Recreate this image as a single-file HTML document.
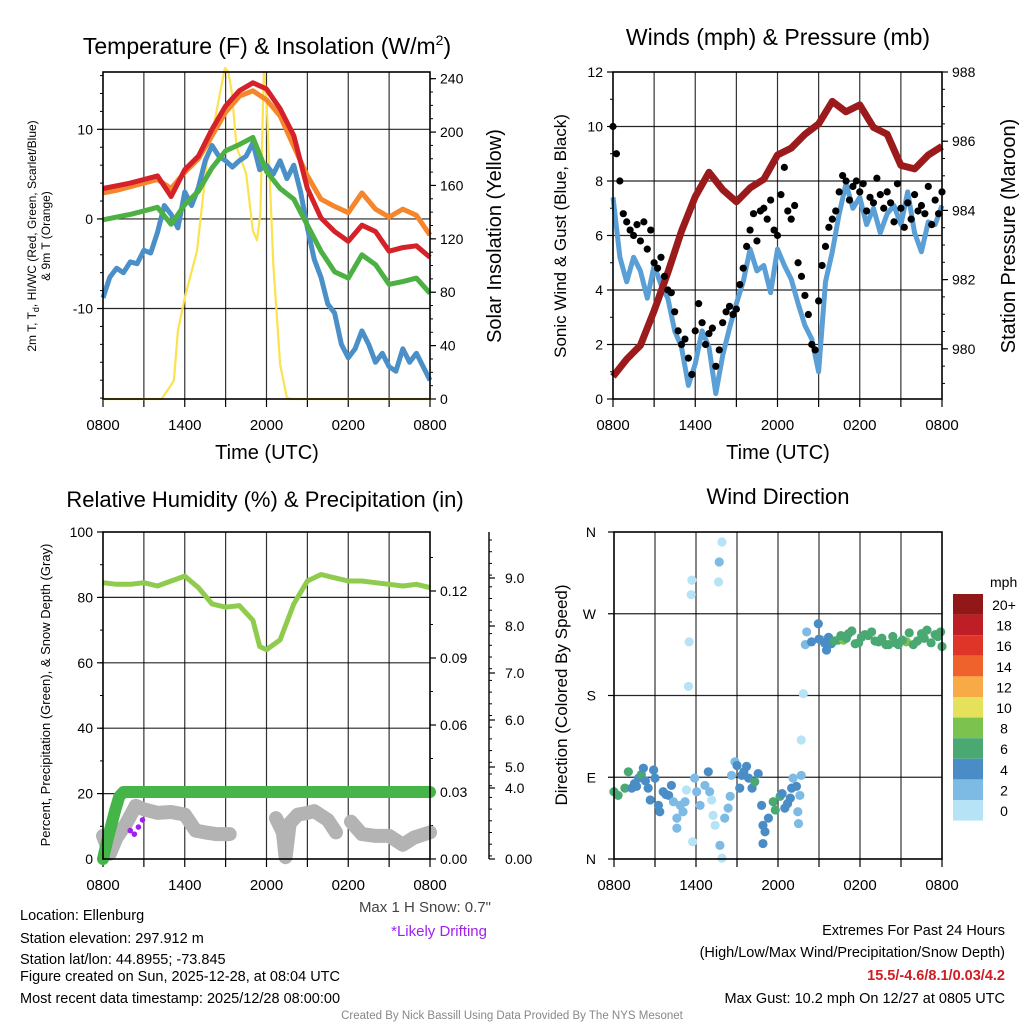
<!DOCTYPE html>
<html><head><meta charset="utf-8">
<style>
html,body{margin:0;padding:0;background:#fff;}
body{width:1024px;height:1024px;overflow:hidden;font-family:"Liberation Sans",Arial,sans-serif;}
svg text{font-family:"Liberation Sans",Arial,sans-serif;}
</style></head>
<body>
<svg id="chart" width="1024" height="1024" viewBox="0 0 1024 1024" xmlns="http://www.w3.org/2000/svg">
<g id="static">
<text x="267" y="54" font-size="23" text-anchor="middle">Temperature (F) &amp; Insolation (W/m<tspan font-size="14" dy="-9">2</tspan><tspan dy="9">)</tspan></text>
<text x="778" y="45" font-size="23" text-anchor="middle">Winds (mph) &amp; Pressure (mb)</text>
<text x="265" y="507" font-size="22" text-anchor="middle">Relative Humidity (%) &amp; Precipitation (in)</text>
<text x="778" y="504" font-size="22" text-anchor="middle">Wind Direction</text>
<text transform="translate(36,236) rotate(-90)" font-size="12" text-anchor="middle">2m T, T<tspan font-size="9" dy="3">d</tspan><tspan dy="-3">, HI/WC (Red, Green, Scarlet/Blue)</tspan></text>
<text transform="translate(50,236) rotate(-90)" font-size="12" text-anchor="middle">&amp; 9m T (Orange)</text>
<text transform="translate(501,236) rotate(-90)" font-size="20" text-anchor="middle">Solar Insolation (Yellow)</text>
<text x="267" y="459" font-size="20" text-anchor="middle">Time (UTC)</text>
<text x="778" y="459" font-size="20" text-anchor="middle">Time (UTC)</text>
<text transform="translate(566,236) rotate(-90)" font-size="17" text-anchor="middle">Sonic Wind &amp; Gust (Blue, Black)</text>
<text transform="translate(1015,236) rotate(-90)" font-size="20" text-anchor="middle">Station Pressure (Maroon)</text>
<text transform="translate(50,695) rotate(-90)" font-size="13" text-anchor="middle">Percent, Precipitation (Green), &amp; Snow Depth (Gray)</text>
<text transform="translate(567,695) rotate(-90)" font-size="17" text-anchor="middle">Direction (Colored By Speed)</text>
<text x="491" y="912" font-size="15" fill="#444" text-anchor="end">Max 1 H Snow: 0.7"</text>
<text x="487" y="936" font-size="15" fill="#a020f0" text-anchor="end">*Likely Drifting</text>
<g font-size="14.5">
<text x="20" y="920">Location: Ellenburg</text>
<text x="20" y="943">Station elevation: 297.912 m</text>
<text x="20" y="964">Station lat/lon: 44.8955; -73.845</text>
<text x="20" y="981">Figure created on Sun, 2025-12-28, at 08:04 UTC</text>
<text x="20" y="1003">Most recent data timestamp: 2025/12/28 08:00:00</text>
</g>
<g font-size="14.5" text-anchor="end">
<text x="1005" y="935">Extremes For Past 24 Hours</text>
<text x="1005" y="957">(High/Low/Max Wind/Precipitation/Snow Depth)</text>
<text x="1005" y="980" fill="#d01c24" font-weight="bold">15.5/-4.6/8.1/0.03/4.2</text>
<text x="1005" y="1003">Max Gust: 10.2 mph On 12/27 at 0805 UTC</text>
</g>
<text x="512" y="1019" font-size="11.5" fill="#888" text-anchor="middle">Created By Nick Bassill Using Data Provided By The NYS Mesonet</text>
</g>
</svg>
<script>
// ---------- DATA ----------
const xTickLabels = ["0800","1400","2000","0200","0800"];
const hourly = [0,1,2,3,4,5,6,7,8,9,10,11,12,13,14,15,16,17,18,19,20,21,22,23,24];
const tempRed = [3.4,3.7,4.0,4.4,4.8,2.5,5.5,7.0,10.0,12.6,14.3,15.2,14.5,12.3,9.3,3.4,0.1,-1.4,-2.5,-0.7,-1.4,-3.6,-3.2,-3.0,-4.3];
const tempOrange = [2.9,3.2,3.6,4.0,4.4,3.4,5.2,6.7,9.3,11.9,13.7,14.3,13.3,11.5,8.1,4.8,2.2,1.4,0.7,2.9,1.1,0.2,1.1,0.4,-1.8];
const tempGreen = [-0.1,0.2,0.5,0.9,1.3,-0.6,1.6,3.1,5.7,7.6,8.3,9.1,5.3,3.4,2.2,-0.7,-3.6,-5.9,-6.6,-4.0,-5.1,-7.3,-7.0,-6.6,-8.3];
const halfHourly = [0,0.5,1,1.5,2,2.5,3,3.5,4,4.5,5,5.5,6,6.5,7,7.5,8,8.5,9,9.5,10,10.5,11,11.5,12,12.5,13,13.5,14,14.5,15,15.5,16,16.5,17,17.5,18,18.5,19,19.5,20,20.5,21,21.5,22,22.5,23,23.5,24];
const tempBlue = [-8.8,-6.5,-5.5,-6.0,-4.8,-5.0,-3.5,-3.8,-1.5,1.5,0.5,-1.0,3.0,1.5,3.5,6.5,8.2,7.0,6.5,5.8,6.5,7.0,8.5,5.5,6.0,5.0,6.5,4.5,6.0,3.0,-1.0,-4.5,-6.5,-9.5,-10.5,-14.0,-15.5,-14.5,-12.5,-14.0,-16.0,-15.0,-16.5,-17.0,-14.5,-16.0,-15.0,-16.5,-18.0];
const insolHours = [0,4.3,4.9,5.2,5.5,6,6.9,7.6,8.3,8.95,9.2,9.45,9.8,10.5,11,11.3,11.55,11.8,12,12.5,13,13.5,13.8,24];
const insolVals = [0,0,9,14,51,76,111,176,214,248,245,230,189,169,126,119,139,245,224,101,26,1,0,0];
const tempTicks = [-10,0,10];
const insolTicks = [0,40,80,120,160,200,240];

const windSpeed = [7.4,5.2,4.3,5.2,4.7,3.7,4.9,4.2,3.7,2.5,1.9,0.5,1.3,2.5,1.9,0.2,1.6,2.6,3.5,4.3,5.5,4.7,4.9,3.9,5.5,4.9,4.4,3.5,2.7,2.2,1.0,4.3,5.4,6.8,7.9,7.0,7.4,6.4,7.0,6.1,6.8,7.1,6.4,7.6,6.1,5.4,6.5,6.4,7.1];
const gustSpeed = [10.0,9.0,8.0,6.8,6.5,6.2,6.0,6.4,5.8,6.5,5.5,6.2,5.0,4.8,5.2,4.5,4.0,3.9,3.2,2.5,2.0,2.2,1.5,0.9,2.5,3.5,2.8,2.0,2.4,2.6,1.2,1.8,2.8,3.2,3.4,3.1,3.3,4.2,4.8,5.6,6.2,6.8,5.8,6.9,7.0,6.6,7.3,6.2,6.0,7.5,8.5,6.9,6.6,7.1,5.0,4.5,3.8,3.1,2.0,1.8,3.6,4.9,5.6,6.3,6.6,6.9,7.6,8.2,8.0,7.3,7.8,8.0,7.6,7.9,6.9,7.4,7.2,8.1,7.5,7.0,7.6,7.2,6.5,7.9,7.0,6.3,7.2,6.6,7.5,6.9,7.1,6.8,7.8,6.4,7.3,6.8,7.6];
const pressure = [979.2,979.7,980.1,981.1,982.2,983.4,984.4,985.1,984.6,984.25,984.65,984.9,985.6,985.8,986.2,986.5,987.15,986.85,987.05,986.4,986.2,985.3,985.2,985.6,985.85];
const windTicks = [0,2,4,6,8,10,12];
const pressTicks = [980,982,984,986,988];

const rhHours = [0,1,2,3,4,5,6,7,8,9,10,11,11.5,12,13,14,15,16,17,18,19,20,21,22,23,24];
const rhVals = [84.5,84,84,84.5,83.5,85,86.5,83,78,77,77.5,73,65,64,67,78,85,87,86,85,85,84.5,84,83.5,84,83];
const precipHours = [0,0.3,0.6,0.9,1.2,1.5,24];
const precipVals = [0,0.008,0.015,0.022,0.028,0.03,0.03];
const snowSeg1Hours = [0,0.5,1,1.7,2.4,3,4,5,6,6.8,7.5,8.3,9.3];
const snowSeg1Vals = [1.3,0.3,1.2,2.0,3.0,2.8,2.6,2.65,2.5,1.6,1.5,1.4,1.4];
const snowSeg2Hours = [12.7,13.2,13.4,13.7,14.3,15,15.5,16.5,17.1];
const snowSeg2Vals = [2.3,1.5,0.1,2.0,2.5,2.6,2.7,2.2,1.5];
const snowSeg3Hours = [18.2,19,20,21,22,22.8,24];
const snowSeg3Vals = [2.1,1.4,1.3,1.3,0.8,1.2,1.5];
const driftHours = [2.0,2.3,2.6,2.9];
const driftVals = [1.6,1.4,1.8,2.2];
const rhTicks = [0,20,40,60,80,100];
const precipTicks = [0,0.03,0.06,0.09,0.12];
const snowTickLabels = ["0.00","4.0","5.0","6.0","7.0","8.0","9.0"];

const dirHours = [0,0.3,0.8,1.05,1.3,1.65,1.8,2.0,2.15,2.5,2.65,2.9,3.0,3.25,3.35,3.6,4.0,4.2,4.35,4.6,4.6,4.85,5.05,5.2,5.3,5.45,5.5,5.65,5.7,5.75,5.9,6.05,6.3,6.65,6.9,7.0,7.15,7.25,7.4,7.65,7.7,7.9,7.75,7.9,8.1,8.35,8.5,8.6,8.85,9.0,9.2,9.35,9.7,9.85,10.1,10.3,10.55,10.8,10.9,10.9,11.05,11.3,11.65,11.8,12.15,12.5,12.9,13.0,13.1,13.35,13.5,13.45,13.6,13.7,13.7,13.85,14.0,14.1,14.45,14.95,15.2,15.55,15.9,16.4,16.8,17.15,17.65,18.35,18.85,19.35,20.1,20.8,21.4,21.9,22.5,22.9,23.5,24,15.0,15.4,15.7,16.1,16.6,17.0,17.4,17.9,18.1,18.6,19.1,19.6,19.9,20.4,20.6,21.1,21.6,22.2,22.7,23.2,23.7,23.9,1.5,2.3,3.8,9.5,12.7,12.3];
const dirDegs = [74,70,78,96,78,80,89,93,100,78,65,98,89,59,52,74,70,81,63,45,34,59,52,63,76,190,239,291,307,19,89,74,59,81,96,74,65,48,37,305,327,349,15,1,45,56,69,92,107,103,78,92,102,89,78,85,94,59,37,17,30,45,63,54,69,56,67,78,89,80,39,52,70,92,131,182,236,250,239,259,241,230,237,241,241,248,237,247,250,239,236,236,239,236,248,252,247,234,242,238,244,240,246,243,251,238,244,246,240,243,236,245,238,241,249,240,243,238,245,250,83,86,71,96,61,72];
const dirSpeeds = [6.5,7.5,6.5,6.5,4.5,4.5,4.5,6.5,4.5,4.5,4.5,4.5,4.5,4.5,4.5,4.5,4.5,4.5,2.5,2.5,2.5,2.5,2.5,2.5,1,1,1,1,1,1,2.5,2.5,2.5,2.5,4.5,2.5,1,1,1,1,2.5,1,2.5,1,2.5,2.5,2.5,2.5,2.5,4.5,4.5,4.5,4.5,4.5,4.5,6.5,4.5,4.5,4.5,4.5,4.5,4.5,6.5,6.5,6.5,4.5,4.5,4.5,2.5,4.5,2.5,2.5,2.5,2.5,1,1,2.5,2.5,4.5,4.5,2.5,4.5,4.5,6.5,8,6.5,6.5,6.5,6.5,6.5,6.5,6.5,8,6.5,6.5,6.5,6.5,6.5,4.5,4.5,4.5,6.5,6.5,6.5,6.5,6.5,6.5,6.5,6.5,6.5,6.5,6.5,6.5,6.5,6.5,6.5,6.5,6.5,6.5,6.5,4.5,4.5,4.5,4.5,4.5,4.5];
const dirTickLabels = ["N","E","S","W","N"];
const cbarLabels = ["20+","18","16","14","12","10","8","6","4","2","0"];
const cbarColors = ["#911719","#be1e26","#de3528","#f0622b","#f7aa46","#e6e15a","#7cc24e","#4aa873","#4a8dc6","#7dbbe5","#b7e3f7"];

// ---------- HELPERS ----------
const NS = "http://www.w3.org/2000/svg";
const svg = document.getElementById("chart");
function mk(tag, attrs, parent){
  const e = document.createElementNS(NS, tag);
  for (const k in attrs) e.setAttribute(k, attrs[k]);
  (parent || svg).appendChild(e);
  return e;
}
function txt(s, attrs, parent){ const e = mk("text", attrs, parent); e.textContent = s; return e; }
const P1 = {x0:103,x1:430,y0:72,y1:399};
const P2 = {x0:613,x1:942,y0:72,y1:399};
const P3 = {x0:103,x1:430,y0:532,y1:859};
const P4 = {x0:614,x1:942,y0:532,y1:859};
function hx(p,h){ return p.x0 + (p.x1-p.x0)*h/24; }
function lin(d0,d1,r0,r1){ return v => r0 + (v-d0)*(r1-r0)/(d1-d0); }
const yTemp = lin(-20.1,16.4,399,72);
const yIns = lin(0,245,399,72);
const yWind = lin(0,12,399,72);
const yPress = lin(978.55,988,399,72);
const yRH = lin(0,100,859,532);
const yPrecip = lin(0,0.12,859,591);
const ySnow = lin(0,4,859,788);
const yDir = lin(0,360,859,532);
function pathD(p, hs, vs, yf){
  let d = "";
  for (let i=0;i<hs.length;i++){ d += (i? "L":"M") + hx(p,hs[i]).toFixed(1) + "," + yf(vs[i]).toFixed(1); }
  return d;
}
function frame(p, name){
  const g = mk("g", {});
  
  
  for (let h=3; h<24; h+=3){
    const l = mk("line",{x1:hx(p,h),x2:hx(p,h),y1:p.y0,y2:p.y1,stroke:"#000","stroke-width":1.2,"stroke-opacity":0.8},g);
    
    
  }
  for (let h=0; h<=24; h+=3){
    const t = mk("line",{x1:hx(p,h),x2:hx(p,h),y1:p.y1,y2:p.y1+8,stroke:"#000","stroke-width":1.2},g);
    
    
  }
  for (let i=0;i<xTickLabels.length;i++){
    const t = txt(xTickLabels[i],{x:hx(p,i*6),y:p.y1+31,"font-size":15,"text-anchor":"middle"},g);
    
    
  }
  return g;
}
function border(p){
  const r = mk("rect",{x:p.x0,y:p.y0,width:p.x1-p.x0,height:p.y1-p.y0,fill:"none",stroke:"#000","stroke-width":1.6});
  
  
}
function hgrid(p, ys, g){
  ys.forEach(y=>{
    const l = mk("line",{x1:p.x0,x2:p.x1,y1:y,y2:y,stroke:"#000","stroke-width":1.2,"stroke-opacity":0.85},g);
    
    
  });
}
function yAxis(x, vals, yf, fmt, side, minorVals, g){
  const dir = side==="left" ? -1 : 1;
  vals.forEach(v=>{
    const y = yf(v);
    const t = mk("line",{x1:x,x2:x+dir*6,y1:y,y2:y,stroke:"#000","stroke-width":1.2},g);
    
    
    const lb = txt(fmt(v),{x:x+dir*10,y:y+5,"font-size":14,"text-anchor":side==="left"?"end":"start"},g);
    
    
  });
  minorVals.forEach(v=>{
    const y = yf(v);
    const t = mk("line",{x1:x,x2:x+dir*3,y1:y,y2:y,stroke:"#000","stroke-width":1},g);
    
    
  });
}
function range(a,b,s){ const r=[]; for(let v=a; v<=b+1e-9; v+=s) r.push(+v.toFixed(4)); return r; }

// ---------- PANEL 1: Temperature ----------
const g1 = frame(P1, "temperature-panel");
hgrid(P1, tempTicks.map(yTemp), g1);
yAxis(P1.x0, tempTicks, yTemp, v=>String(v), "left", range(-20,16,2), g1);
yAxis(P1.x1, insolTicks, yIns, v=>String(v), "right", range(0,240,10), g1);
const insol = mk("path",{d:pathD(P1,insolHours,insolVals,yIns),fill:"none",stroke:"#fbe24e","stroke-width":2.2,"stroke-linejoin":"round"},g1);


const tb = mk("path",{d:pathD(P1,halfHourly,tempBlue,yTemp),fill:"none",stroke:"#4a8fc7","stroke-width":5,"stroke-linejoin":"round"},g1);


const tg = mk("path",{d:pathD(P1,hourly,tempGreen,yTemp),fill:"none",stroke:"#4cb043","stroke-width":5,"stroke-linejoin":"round"},g1);


const to = mk("path",{d:pathD(P1,hourly,tempOrange,yTemp),fill:"none",stroke:"#f6862c","stroke-width":5,"stroke-linejoin":"round"},g1);


const tr = mk("path",{d:pathD(P1,hourly,tempRed,yTemp),fill:"none",stroke:"#d52129","stroke-width":5,"stroke-linejoin":"round"},g1);


border(P1);

// ---------- PANEL 2: Wind ----------
const g2 = frame(P2, "wind-panel");
hgrid(P2, windTicks.slice(1,-1).map(yWind), g2);
yAxis(P2.x0, windTicks, yWind, v=>String(v), "left", range(0,12,1), g2);
yAxis(P2.x1, pressTicks, yPress, v=>String(v), "right", range(979,988,0.5), g2);
const ws = mk("path",{d:pathD(P2,halfHourly,windSpeed,yWind),fill:"none",stroke:"#5a9fd6","stroke-width":5,"stroke-linejoin":"round"},g2);


const pr = mk("path",{d:pathD(P2,hourly,pressure,yPress),fill:"none",stroke:"#9b1b1c","stroke-width":7,"stroke-linejoin":"round"},g2);


gustSpeed.forEach((v,i)=>{
  const c = mk("circle",{cx:hx(P2,i*0.25),cy:yWind(v),r:3.6,fill:"#000"},g2);
  
  
});
border(P2);

// ---------- PANEL 3: RH / Precip / Snow ----------
const g3 = frame(P3, "humidity-panel");
hgrid(P3, rhTicks.slice(1,-1).map(yRH), g3);
yAxis(P3.x0, rhTicks, yRH, v=>String(v), "left", range(0,100,10), g3);
yAxis(P3.x1, precipTicks, yPrecip, v=>v.toFixed(2), "right", range(0,0.135,0.015), g3);
const snowAxis = mk("line",{x1:489,x2:489,y1:532,y2:859,stroke:"#000","stroke-width":1.4},g3);


const snowTickY = [859,788,767,720,673,626,578];
snowTickLabels.forEach((s,i)=>{
  const y = snowTickY[i];
  const t = mk("line",{x1:489,x2:495,y1:y,y2:y,stroke:"#000","stroke-width":1.2},g3);
  
  
  const lb = txt(s,{x:505,y:y+5,"font-size":14},g3);
  
  
});
for (let y=540; y<859; y+=11.7){
  const t = mk("line",{x1:489,x2:492,y1:y,y2:y,stroke:"#000","stroke-width":1},g3);
  
  
}
[[snowSeg1Hours,snowSeg1Vals],[snowSeg2Hours,snowSeg2Vals],[snowSeg3Hours,snowSeg3Vals]].forEach(s=>{
  const p = mk("path",{d:pathD(P3,s[0],s[1],ySnow),fill:"none",stroke:"#b3b3b3","stroke-width":14,"stroke-linejoin":"round","stroke-linecap":"round"},g3);
  
  
});
driftHours.forEach((h,i)=>{
  const c = mk("circle",{cx:hx(P3,h),cy:ySnow(driftVals[i]),r:2.8,fill:"#a020f0"},g3);
  
  
});
const pp = mk("path",{d:pathD(P3,precipHours,precipVals,yPrecip),fill:"none",stroke:"#45b54a","stroke-width":12,"stroke-linejoin":"round","stroke-linecap":"round"},g3);


const rh = mk("path",{d:pathD(P3,rhHours,rhVals,yRH),fill:"none",stroke:"#8fcb4d","stroke-width":5,"stroke-linejoin":"round"},g3);


border(P3);

// ---------- PANEL 4: Wind direction ----------
const g4 = frame(P4, "direction-panel");
hgrid(P4, [90,180,270].map(yDir), g4);
dirTickLabels.forEach((s,i)=>{
  const y = yDir(i*90);
  const t = mk("line",{x1:P4.x0,x2:P4.x0-6,y1:y,y2:y,stroke:"#000","stroke-width":1.2},g4);
  
  
  const lb = txt(s,{x:P4.x0-18,y:y+5,"font-size":14,"text-anchor":"end"},g4);
  
  
});
function speedColor(s){ let k = Math.min(10, Math.floor(s/2)); return cbarColors[10-k]; }
dirHours.forEach((h,i)=>{
  const c = mk("circle",{cx:hx(P4,h),cy:yDir(dirDegs[i]),r:4.6,fill:speedColor(dirSpeeds[i])},g4);
  
  
});
border(P4);
const cb = mk("g",{});


const mph = txt("mph",{x:990,y:587,"font-size":14},cb);


cbarLabels.forEach((s,i)=>{
  const y = 594 + i*20.6;
  const r = mk("rect",{x:953,y:y,width:30,height:20.6,fill:cbarColors[i]},cb);
  
  
  const lb = txt(s,{x:1004,y:y+16,"font-size":14,"text-anchor":"middle"},cb);
  
  
});
</script>
</body></html>
